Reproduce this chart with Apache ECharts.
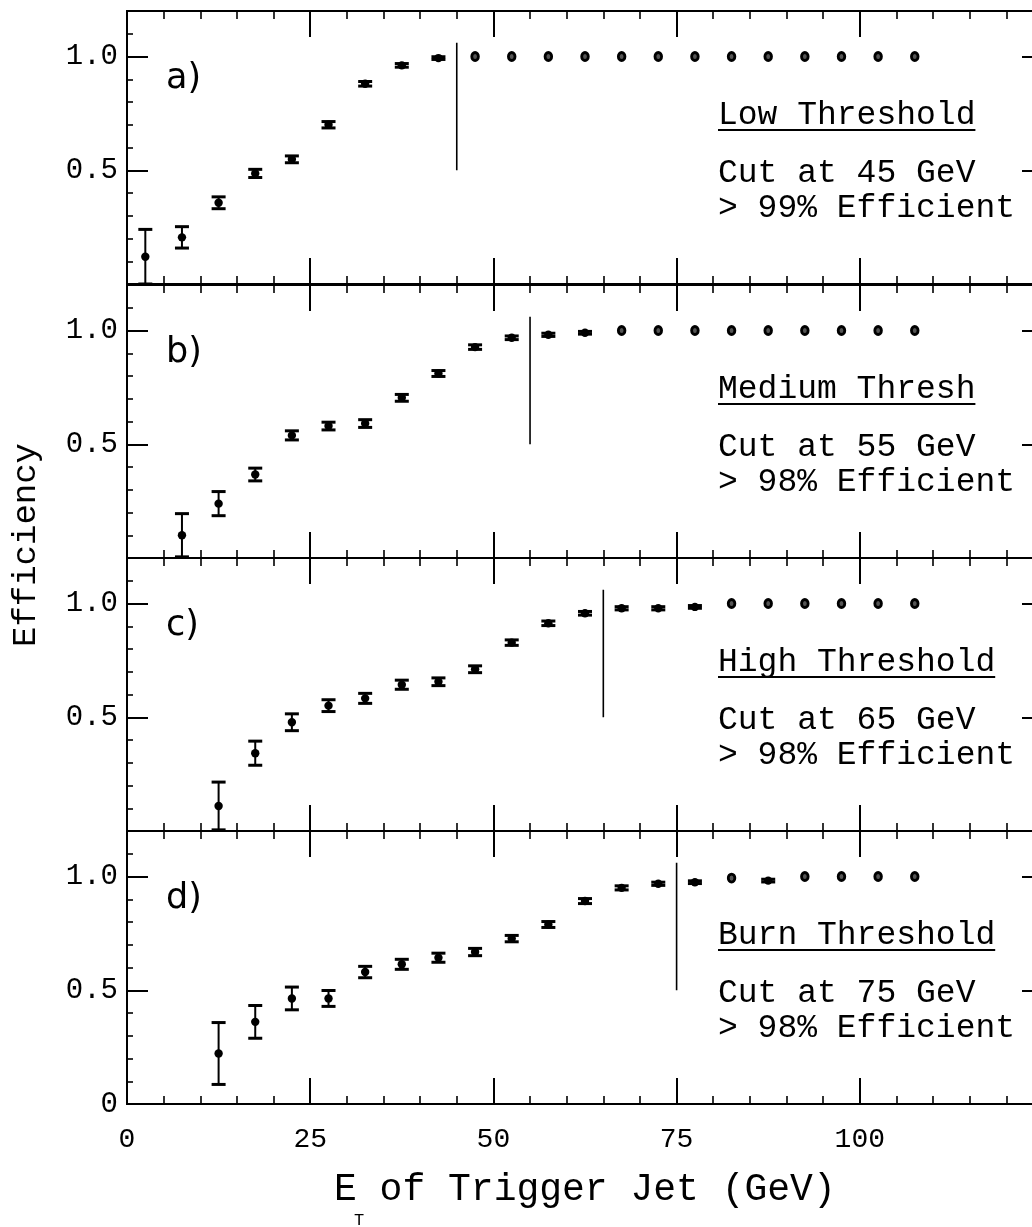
<!DOCTYPE html>
<html><head><meta charset="utf-8">
<script src="https://cdn.jsdelivr.net/npm/echarts@6/dist/echarts.min.js"></script>
<style>html,body{margin:0;padding:0;background:#fff;overflow:hidden}#c{width:1056px;height:1227px}</style>
</head><body><div id="c"></div>
<script>
// ---- data ----
const xBins = [2.5, 7.5, 12.5, 17.5, 22.5, 27.5, 32.5, 37.5, 42.5, 47.5, 52.5, 57.5, 62.5, 67.5, 72.5, 77.5, 82.5, 87.5, 92.5, 97.5, 102.5, 107.5];

const effA = [0.12, 0.205, 0.357, 0.486, 0.548, 0.70, 0.88, 0.961, 0.993, 1.0, 1.0, 1.0, 1.0, 1.0, 1.0, 1.0, 1.0, 1.0, 1.0, 1.0, 1.0, 1.0];
const errA = [0.12, 0.047, 0.026, 0.018, 0.015, 0.014, 0.01, 0.008, 0.006, 0, 0, 0, 0, 0, 0, 0, 0, 0, 0, 0, 0, 0];

const effB = [null, 0.10, 0.239, 0.367, 0.539, 0.580, 0.591, 0.704, 0.811, 0.927, 0.968, 0.981, 0.990, 1.0, 1.0, 1.0, 1.0, 1.0, 1.0, 1.0, 1.0, 1.0];
const errB = [null, 0.095, 0.053, 0.028, 0.02, 0.017, 0.017, 0.015, 0.013, 0.01, 0.008, 0.007, 0.006, 0, 0, 0, 0, 0, 0, 0, 0, 0];

const effC = [null, null, 0.11, 0.342, 0.478, 0.551, 0.583, 0.643, 0.656, 0.711, 0.828, 0.913, 0.957, 0.979, 0.979, 0.985, 1.0, 1.0, 1.0, 1.0, 1.0, 1.0];
const errC = [null, null, 0.105, 0.053, 0.037, 0.026, 0.022, 0.02, 0.017, 0.015, 0.012, 0.01, 0.008, 0.007, 0.007, 0.006, 0, 0, 0, 0, 0, 0];

const effD = [null, null, 0.222, 0.361, 0.464, 0.464, 0.580, 0.614, 0.643, 0.668, 0.727, 0.789, 0.892, 0.950, 0.968, 0.975, 0.993, 0.982, 1.0, 1.0, 1.0, 1.0];
const errD = [null, null, 0.136, 0.072, 0.05, 0.035, 0.025, 0.022, 0.02, 0.016, 0.014, 0.013, 0.011, 0.009, 0.007, 0.006, 0, 0.006, 0, 0, 0, 0];

const cutValues = [45, 55, 65, 75];
const cutRange = [0.5, 1.06];
const panelLabels = ['a)', 'b)', 'c)', 'd)'];
const thresholdNames = ['Low Threshold', 'Medium Thresh', 'High Threshold', 'Burn Threshold'];
const cutTexts = ['Cut at 45 GeV', 'Cut at 55 GeV', 'Cut at 65 GeV', 'Cut at 75 GeV'];
const effTexts = ['> 99% Efficient', '> 98% Efficient', '> 98% Efficient', '> 98% Efficient'];
const xTickLabels = ['0', '25', '50', '75', '100'];
const yTickLabels = ['0', '0.5', '1.0'];
const yMajorTicks = [0, 0.5, 1.0];
const xTitle = 'E of Trigger Jet (GeV)';
const xTitleSub = 'T';
const yTitle = 'Efficiency';

// ---- layout ----
const effs = [effA, effB, effC, effD];
const errs = [errA, errB, errC, errD];
const GRID_TOPS = [11, 285, 558, 831];
const GRID_H = 273;
const LEFT = 127, GRID_W = 916;
const MONO = '"Liberation Mono", "DejaVu Sans Mono", monospace';
const INK = '#000';

const grids = [], xAxes = [], yAxes = [], series = [], graphics = [];

GRID_TOPS.forEach((top, i) => {
  grids.push({ left: LEFT, top: top, width: GRID_W, height: GRID_H, containLabel: false });
  const isLast = i === 3;
  ['bottom', 'top'].forEach(pos => {
    xAxes.push({
      gridIndex: i, type: 'value', min: 0, max: 125, interval: 25, position: pos,
      axisLine: { show: true, onZero: false, lineStyle: { color: INK, width: 2 } },
      axisTick: { show: true, inside: true, length: 26, lineStyle: { color: INK, width: 2 } },
      minorTick: { show: true, splitNumber: 5, length: 8, lineStyle: { color: INK, width: 1.6 } },
      splitLine: { show: false }, minorSplitLine: { show: false },
      axisLabel: {
        show: isLast && pos === 'bottom', margin: 22,
        fontFamily: MONO, fontSize: 28, color: INK,
        formatter: v => { const k = Math.round(v / 25); return (Math.abs(v - k * 25) < 1e-6 && k < xTickLabels.length) ? xTickLabels[k] : ''; }
      }
    });
  });
  ['left', 'right'].forEach(pos => {
    yAxes.push({
      gridIndex: i, type: 'value', min: 0, max: 1.2, interval: 0.1, position: pos,
      axisLine: { show: true, onZero: false, lineStyle: { color: INK, width: 2 } },
      axisTick: { show: true, inside: true, length: 6, lineStyle: { color: INK, width: 1.6 } },
      splitLine: { show: false }, axisLabel: { show: false }
    });
    yAxes.push({
      gridIndex: i, type: 'value', min: 0, max: 1.2, interval: 0.5, position: pos,
      axisLine: { show: true, onZero: false, lineStyle: { color: INK, width: 2 } },
      axisTick: { show: true, inside: true, length: 21, customValues: yMajorTicks, lineStyle: { color: INK, width: 2 } },
      splitLine: { show: false },
      axisLabel: {
        show: pos === 'left', inside: false, margin: 9, fontFamily: MONO, fontSize: 29, color: INK,
        customValues: isLast ? yMajorTicks : yMajorTicks.slice(1),
        formatter: v => {
          const k = yMajorTicks.findIndex(t => Math.abs(t - v) < 1e-6);
          return k >= 0 ? yTickLabels[k] : '';
        }
      }
    });
  });

  const data = [];
  xBins.forEach((x, j) => { if (effs[i][j] != null) data.push([x, effs[i][j], errs[i][j]]); });

  series.push({
    type: 'custom', xAxisIndex: 2 * i, yAxisIndex: 4 * i + 1,
    dimensions: ['x', 'y', 'err'], encode: { x: 0, y: 1 },
    data: data, silent: true,
    renderItem: (params, api) => {
      const x = api.value(0), y = api.value(1), e = api.value(2);
      const p = api.coord([x, y]);
      const ch = [];
      if (e > 0.001) {
        const t = api.coord([x, y + e]);
        const b = api.coord([x, Math.max(0, y - e)]);
        const hw = 7;
        ch.push({ type: 'line', shape: { x1: p[0], y1: t[1], x2: p[0], y2: b[1] }, style: { stroke: INK, lineWidth: 2 } });
        ch.push({ type: 'line', shape: { x1: p[0] - hw, y1: t[1], x2: p[0] + hw, y2: t[1] }, style: { stroke: INK, lineWidth: 3 } });
        ch.push({ type: 'line', shape: { x1: p[0] - hw, y1: b[1], x2: p[0] + hw, y2: b[1] }, style: { stroke: INK, lineWidth: 3 } });
        ch.push({ type: 'circle', shape: { cx: p[0], cy: p[1], r: 4.2 }, style: { fill: INK } });
      } else {
        ch.push({ type: 'ellipse', shape: { cx: p[0], cy: p[1], rx: 3.3, ry: 4 }, style: { fill: '#555', stroke: INK, lineWidth: 2.8 } });
      }
      return { type: 'group', children: ch };
    }
  });

  series.push({
    type: 'line', xAxisIndex: 2 * i, yAxisIndex: 4 * i + 1,
    data: [[cutValues[i], cutRange[0]], [cutValues[i], cutRange[1]]],
    symbol: 'none', silent: true, lineStyle: { color: INK, width: 1.6 }
  });

  graphics.push({ type: 'text', x: 166, y: top + 68, silent: true,
    style: { text: panelLabels[i], font: '35px "DejaVu Sans"', fill: INK, textAlign: 'left', textVerticalAlign: 'middle' } });
  const fs = 33;
  graphics.push({ type: 'text', x: 718, y: top + 104, silent: true,
    style: { text: thresholdNames[i], font: fs + 'px ' + MONO, fill: INK, textAlign: 'left', textVerticalAlign: 'middle' } });
  const ulen = thresholdNames[i].length * fs * 0.6;
  graphics.push({ type: 'line', silent: true, shape: { x1: 718, y1: top + 119, x2: 718 + ulen, y2: top + 119 }, style: { stroke: INK, lineWidth: 2 } });
  graphics.push({ type: 'text', x: 718, y: top + 162, silent: true,
    style: { text: cutTexts[i], font: fs + 'px ' + MONO, fill: INK, textAlign: 'left', textVerticalAlign: 'middle' } });
  graphics.push({ type: 'text', x: 718, y: top + 197, silent: true,
    style: { text: effTexts[i], font: fs + 'px ' + MONO, fill: INK, textAlign: 'left', textVerticalAlign: 'middle' } });
});

graphics.push({ type: 'text', x: 26, y: 545, rotation: Math.PI / 2, silent: true,
  style: { text: yTitle, font: '34px ' + MONO, fill: INK, textAlign: 'center', textVerticalAlign: 'middle' } });
graphics.push({ type: 'text', x: 334, y: 1190, silent: true,
  style: { text: xTitle, font: '38px ' + MONO, fill: INK, textAlign: 'left', textVerticalAlign: 'middle' } });
graphics.push({ type: 'text', x: 354, y: 1220, silent: true,
  style: { text: xTitleSub, font: '17px ' + MONO, fill: INK, textAlign: 'left', textVerticalAlign: 'middle' } });

const chart = echarts.init(document.getElementById('c'), null, { renderer: 'canvas' });
chart.setOption({
  backgroundColor: '#fff',
  animation: false,
  grid: grids, xAxis: xAxes, yAxis: yAxes, series: series, graphic: graphics
});
</script></body></html>
